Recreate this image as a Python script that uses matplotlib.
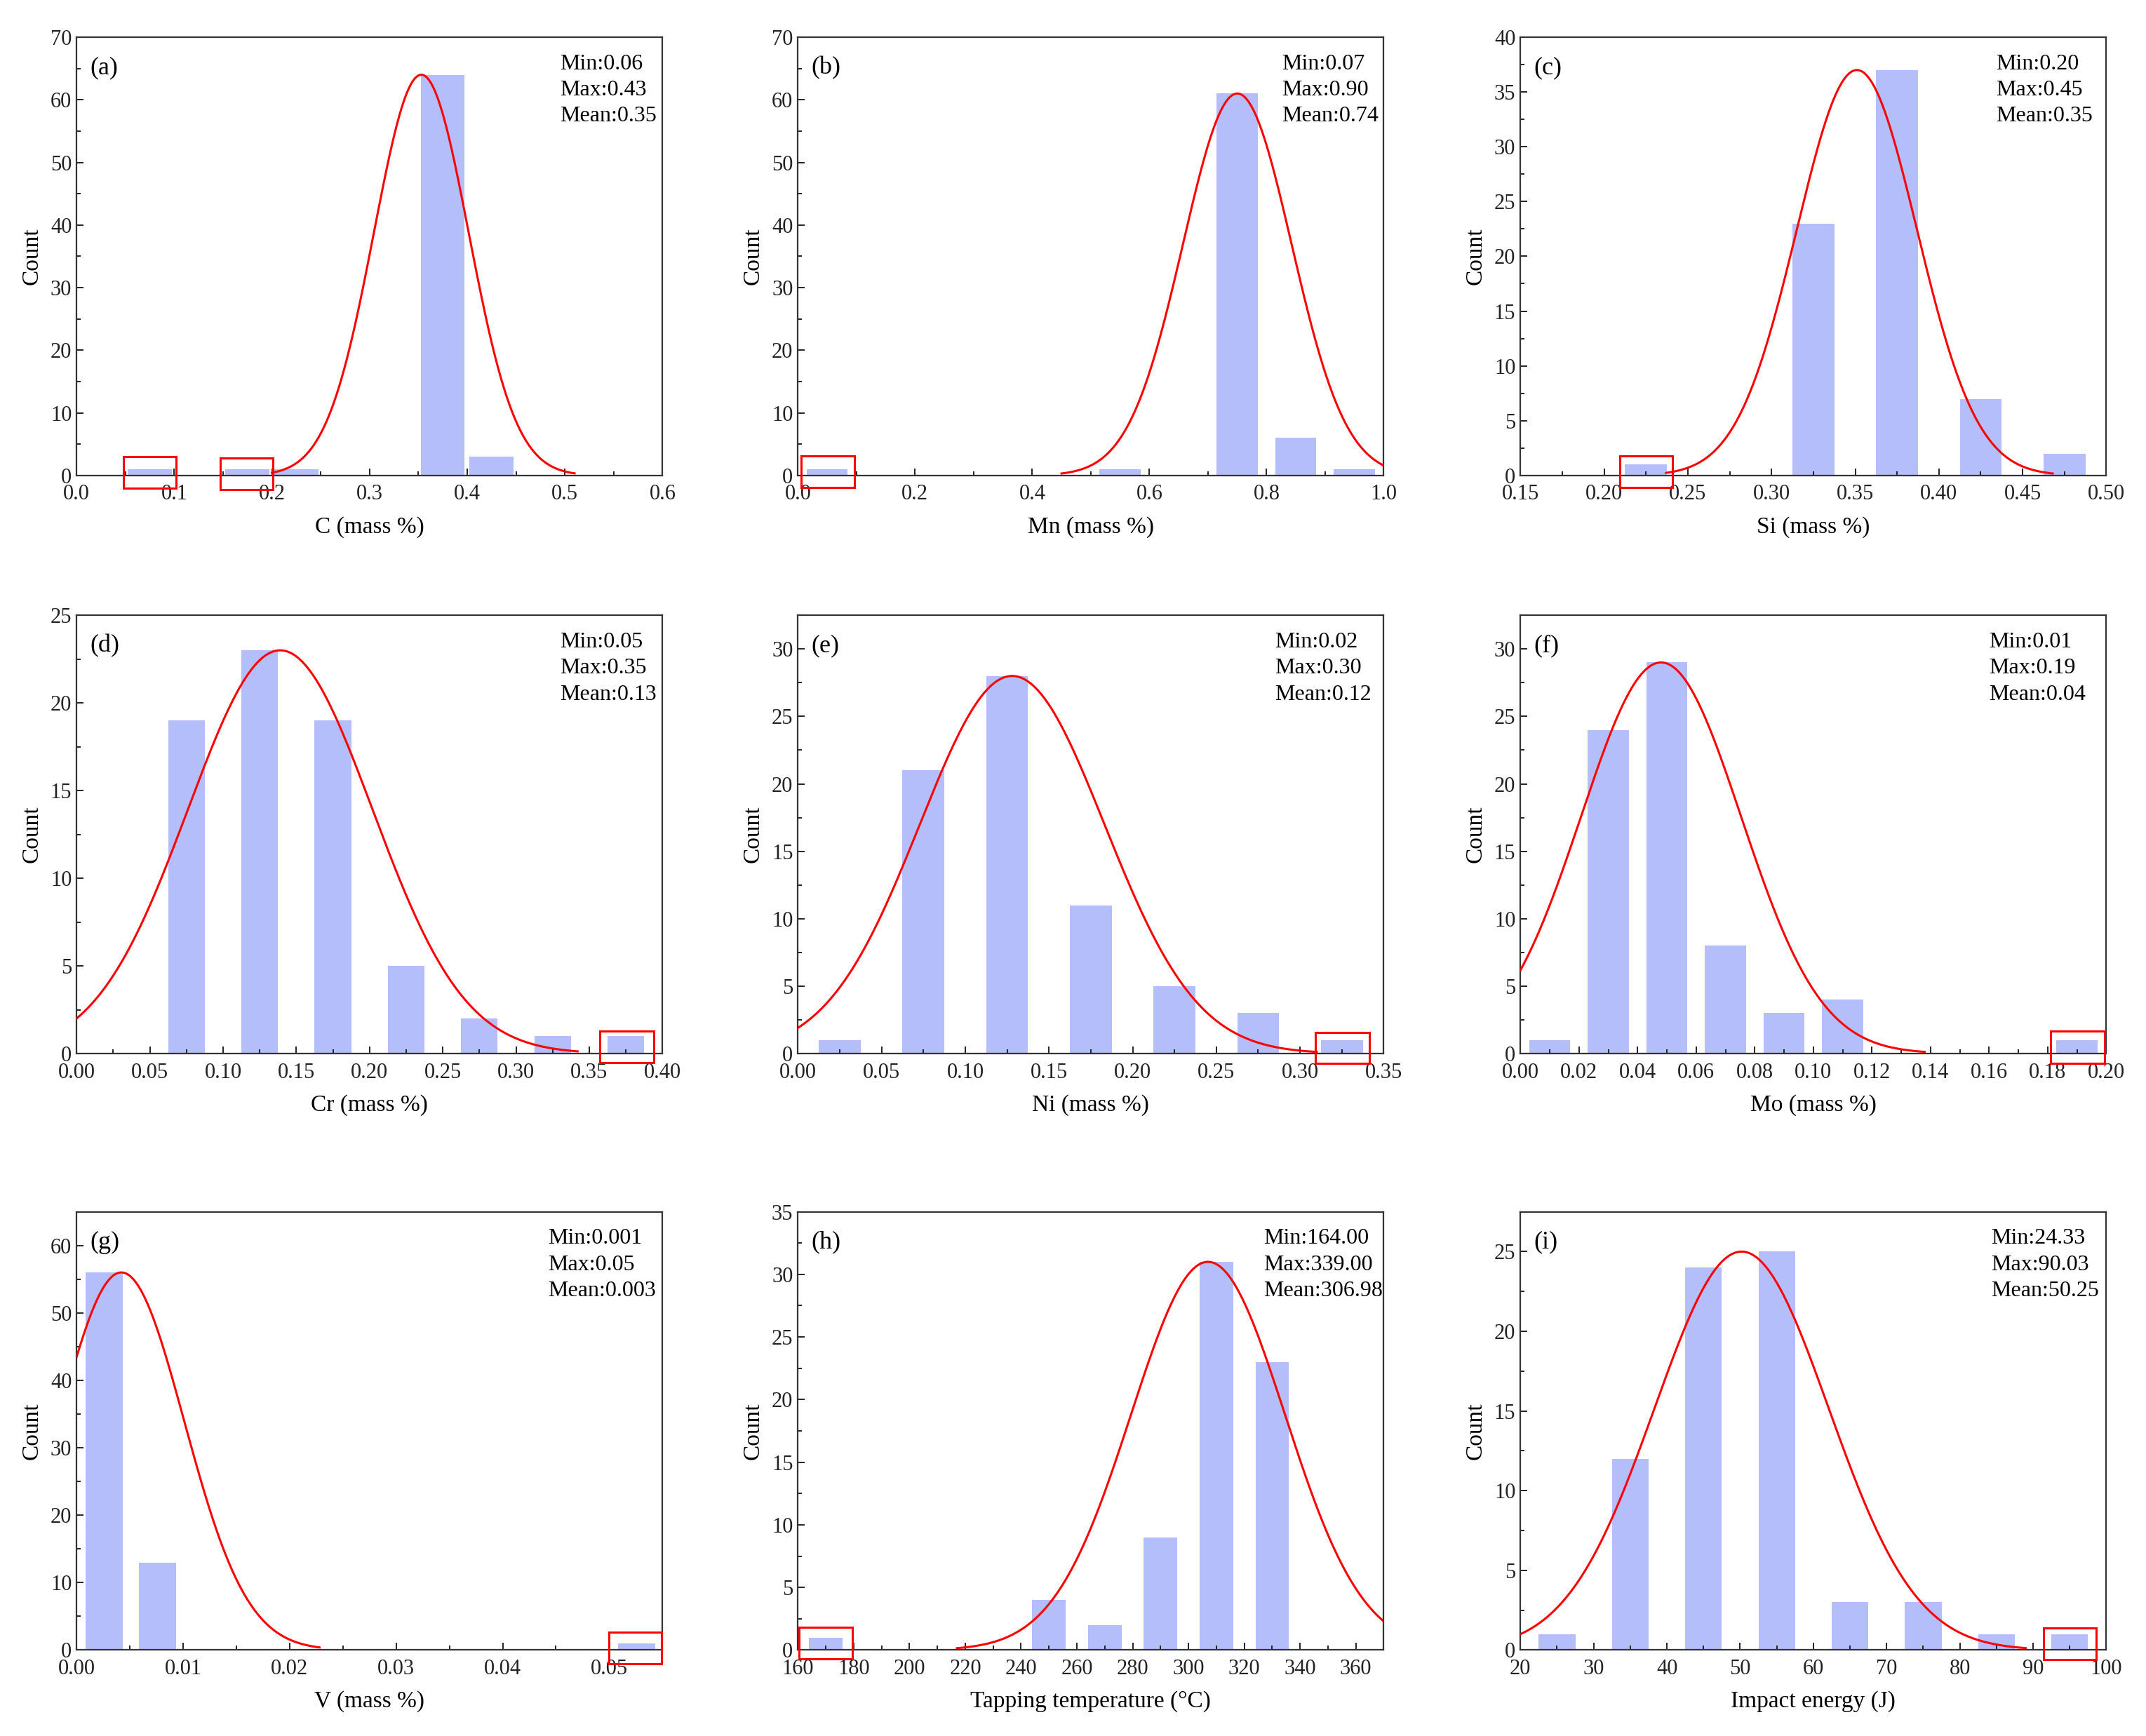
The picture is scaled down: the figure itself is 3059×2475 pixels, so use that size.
import numpy as np
import matplotlib
matplotlib.use("Agg")
import matplotlib.pyplot as plt
from matplotlib.patches import Rectangle
from matplotlib.ticker import MultipleLocator, FormatStrFormatter

plt.rcParams["font.family"] = ["Liberation Serif", "DejaVu Serif"]

BAR_COLOR = "#b4befa"
CURVE_COLOR = "#ff0000"

# --- data, one entry per panel (a)..(i) ---
tags = ["(a)", "(b)", "(c)", "(d)", "(e)", "(f)", "(g)", "(h)", "(i)"]
xlabels = [
    "C (mass %)", "Mn (mass %)", "Si (mass %)",
    "Cr (mass %)", "Ni (mass %)", "Mo (mass %)",
    "V (mass %)", "Tapping temperature (\u00b0C)", "Impact energy (J)",
]
stats = [
    ("0.06", "0.43", "0.35"),
    ("0.07", "0.90", "0.74"),
    ("0.20", "0.45", "0.35"),
    ("0.05", "0.35", "0.13"),
    ("0.02", "0.30", "0.12"),
    ("0.01", "0.19", "0.04"),
    ("0.001", "0.05", "0.003"),
    ("164.00", "339.00", "306.98"),
    ("24.33", "90.03", "50.25"),
]

bar_centers = [
    [0.075, 0.175, 0.225, 0.375, 0.425],
    [0.05, 0.55, 0.75, 0.85, 0.95],
    [0.225, 0.325, 0.375, 0.425, 0.475],
    [0.075, 0.125, 0.175, 0.225, 0.275, 0.325, 0.375],
    [0.025, 0.075, 0.125, 0.175, 0.225, 0.275, 0.325],
    [0.01, 0.03, 0.05, 0.07, 0.09, 0.11, 0.19],
    [0.0026, 0.0076, 0.0526],
    [170, 250, 270, 290, 310, 330],
    [25, 35, 45, 55, 65, 75, 85, 95],
]
bar_counts = [
    [1, 1, 1, 64, 3],
    [1, 1, 61, 6, 1],
    [1, 23, 37, 7, 2],
    [19, 23, 19, 5, 2, 1, 1],
    [1, 21, 28, 11, 5, 3, 1],
    [1, 24, 29, 8, 3, 4, 1],
    [56, 13, 1],
    [1, 4, 2, 9, 31, 23],
    [1, 12, 24, 25, 3, 3, 1, 1],
]
bar_widths = [0.045, 0.07, 0.025, 0.025, 0.025, 0.014, 0.0035, 12, 5]

# fitted normal curves: peak height, centre, sigma, drawn x-range
fit_peak = [64, 61, 37, 23, 28, 29, 56, 31, 25]
fit_mu = [0.353, 0.75, 0.351, 0.139, 0.128, 0.048, 0.0042, 307, 50.2]
fit_sigma = [0.0485, 0.0926, 0.0359, 0.0629, 0.0552, 0.0273, 0.0059, 27.6, 11.9]
fit_range = [
    (0.2, 0.51), (0.45, 1.0), (0.237, 0.468),
    (0.0, 0.342), (0.0, 0.31), (0.0, 0.138),
    (0.0, 0.0228), (217, 370), (20, 89),
]

# highlighted outliers: red boxes (x0, x1, y0, y1) in data units
boxes = [
    [(0.048, 0.102, -2.0, 3.05), (0.147, 0.201, -2.2, 2.8)],
    [(0.0055, 0.097, -1.9, 3.15)],
    [(0.2094, 0.241, -1.1, 1.8)],
    [(0.357, 0.394, -0.5, 1.3)],
    [(0.309, 0.3415, -0.75, 1.55)],
    [(0.181, 0.1995, -0.7, 1.65)],
    [(0.050, 0.0549, -2.0, 2.6)],
    [(160.5, 179.6, -0.7, 1.8)],
    [(91.4, 98.6, -0.6, 1.4)],
]

# axis settings
xlims = [(0, 0.6), (0, 1.0), (0.15, 0.50), (0, 0.40), (0, 0.35), (0, 0.20),
         (0, 0.055), (160, 370), (20, 100)]
xmajor = [0.1, 0.2, 0.05, 0.05, 0.05, 0.02, 0.01, 20, 10]
ylims = [(0, 70), (0, 70), (0, 40), (0, 25), (0, 32.5), (0, 32.5),
         (0, 65), (0, 35), (0, 27.5)]
ymajor = [10, 10, 5, 5, 5, 5, 10, 5, 5]
xfmt = ["%.1f", "%.1f", "%.2f", "%.2f", "%.2f", "%.2f", "%.2f", "%d", "%d"]
stat_x = [0.825, 0.826, 0.812, 0.825, 0.814, 0.800, 0.805, 0.795, 0.803]

col_left = [0.0357, 0.3718, 0.7085]
row_bottom = [0.7261, 0.3931, 0.0495]
ax_w, ax_h = 0.273, 0.2525

fig = plt.figure(figsize=(30.59, 24.75), dpi=100)

for i in range(9):
    r, c = divmod(i, 3)
    ax = fig.add_axes([col_left[c], row_bottom[r], ax_w, ax_h])

    ax.bar(bar_centers[i], bar_counts[i], width=bar_widths[i],
           color=BAR_COLOR, edgecolor="none", zorder=1)

    xs = np.linspace(fit_range[i][0], fit_range[i][1], 400)
    ys = fit_peak[i] * np.exp(-(xs - fit_mu[i]) ** 2 / (2 * fit_sigma[i] ** 2))
    ax.plot(xs, ys, color=CURVE_COLOR, lw=2.2, zorder=3)

    for x0, x1, y0, y1 in boxes[i]:
        ax.add_patch(Rectangle((x0, y0), x1 - x0, y1 - y0, fill=False,
                               edgecolor=CURVE_COLOR, lw=2.2, clip_on=False,
                               zorder=4))

    ax.set_xlim(*xlims[i])
    ax.set_ylim(*ylims[i])
    ax.xaxis.set_major_locator(MultipleLocator(xmajor[i]))
    ax.xaxis.set_minor_locator(MultipleLocator(xmajor[i] / 2))
    ax.yaxis.set_major_locator(MultipleLocator(ymajor[i]))
    ax.yaxis.set_minor_locator(MultipleLocator(ymajor[i] / 2))
    ax.xaxis.set_major_formatter(FormatStrFormatter(xfmt[i]))
    ax.tick_params(which="both", direction="in", top=False, right=False,
                   labelsize=22, width=1.4, colors="#222222")
    ax.tick_params(which="major", length=7)
    ax.tick_params(which="minor", length=4)
    ax.tick_params(axis="x", which="major", pad=9)
    ax.tick_params(axis="y", which="major", pad=5)
    for sp in ax.spines.values():
        sp.set_linewidth(1.6)
        sp.set_color("#333333")

    ax.set_xlabel(xlabels[i], fontsize=24, labelpad=12)
    ax.set_ylabel("Count", fontsize=24, labelpad=8)

    ax.text(0.023, 0.93, tags[i], transform=ax.transAxes, fontsize=26,
            ha="left", va="center")
    mn, mx, me = stats[i]
    ax.text(stat_x[i], 0.962, f"Min:{mn}\nMax:{mx}\nMean:{me}",
            transform=ax.transAxes, fontsize=23, ha="left", va="top",
            linespacing=1.38)

fig.savefig("out.png", dpi=100)
